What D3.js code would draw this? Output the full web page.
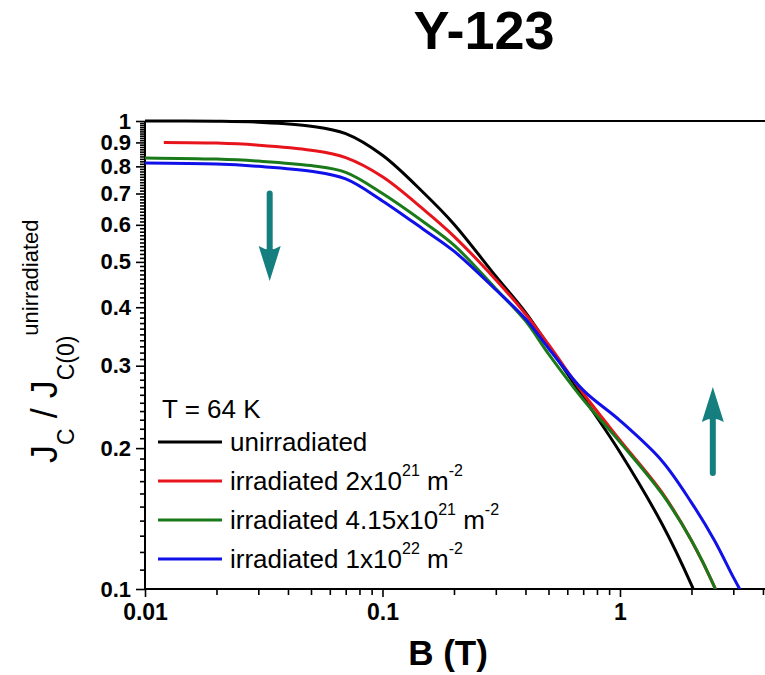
<!DOCTYPE html>
<html>
<head>
<meta charset="utf-8">
<script src="https://cdn.jsdelivr.net/npm/d3@7"></script>
<style>
  body { margin: 0; background: #fff; }
  svg { display: block; font-family: "Liberation Sans", Arial, sans-serif; }
</style>
</head>
<body>
<div id="chart"></div>
<script>
"use strict";

// data: B (T) vs Jc / Jc(0) unirradiated
const seriesNames = [
  "unirradiated",
  "irradiated 2x10^21",
  "irradiated 4.15x10^21",
  "irradiated 1x10^22",
];
const seriesColors = ["#000000", "#e8141c", "#1a7a1a", "#1010e8"];

const bUnirr = [0.01, 0.02, 0.03, 0.05, 0.07, 0.1, 0.15, 0.2, 0.3, 0.4, 0.5, 0.7, 1, 1.5, 2, 2.1];
const jUnirr = [1.0, 0.999, 0.994, 0.975, 0.94, 0.845, 0.7, 0.602, 0.466, 0.39, 0.331, 0.257, 0.196, 0.138, 0.102, 0.096];

const bIrr2e21 = [0.012, 0.02, 0.03, 0.05, 0.07, 0.1, 0.15, 0.2, 0.3, 0.4, 0.5, 0.7, 1, 1.5, 2, 2.5, 2.6];
const jIrr2e21 = [0.9, 0.897, 0.888, 0.866, 0.835, 0.76, 0.645, 0.567, 0.458, 0.387, 0.333, 0.262, 0.208, 0.161, 0.127, 0.101, 0.096];

const bIrr415e21 = [0.01, 0.02, 0.03, 0.05, 0.07, 0.1, 0.15, 0.2, 0.3, 0.4, 0.5, 0.7, 1, 1.5, 2, 2.5, 2.6];
const jIrr415e21 = [0.834, 0.829, 0.821, 0.803, 0.777, 0.7, 0.607, 0.543, 0.438, 0.374, 0.318, 0.254, 0.206, 0.16, 0.127, 0.101, 0.096];

const bIrr1e22 = [0.01, 0.02, 0.03, 0.05, 0.07, 0.1, 0.15, 0.2, 0.3, 0.4, 0.5, 0.7, 1, 1.5, 2, 2.5, 3, 3.3];
const jIrr1e22 = [0.813, 0.809, 0.8, 0.781, 0.752, 0.675, 0.585, 0.527, 0.436, 0.378, 0.327, 0.266, 0.229, 0.188, 0.153, 0.127, 0.106, 0.097];

const xMajorTicks = [0.01, 0.1, 1];
const xMinorTicks = [0.02, 0.03, 0.04, 0.05, 0.06, 0.07, 0.08, 0.09, 0.2, 0.3, 0.4, 0.5, 0.6, 0.7, 0.8, 0.9, 2, 3, 4];
const yMajorTicks = [0.1, 0.2, 0.3, 0.4, 0.5, 0.6, 0.7, 0.8, 0.9, 1];
const yMinorTicks = d3.range(10, 101).map((v) => v / 100).filter((v) => Math.round(v * 100) % 10 !== 0);

// arrows drawn in data space: [B, J start, J end]
const arrowDown = [0.0335, 0.70, 0.455];
const arrowUp = [2.46, 0.177, 0.27];

const width = 765;
const height = 675;
const plot = { left: 145, right: 765, top: 121, bottom: 589 };

const svg = d3
  .select("#chart")
  .append("svg")
  .attr("width", width)
  .attr("height", height);

const x = d3.scaleLog().domain([0.01, 4.08]).range([plot.left, plot.right]);
const y = d3.scaleLog().domain([0.1, 1]).range([plot.bottom, plot.top]);

///////////////////////////////////
// title
///////////////////////////////////
svg
  .append("text")
  .attr("x", 484)
  .attr("y", 49)
  .attr("text-anchor", "middle")
  .style("font-size", "54px")
  .style("font-weight", "bold")
  .text("Y-123");

///////////////////////////////////
// axes
///////////////////////////////////
svg
  .append("g")
  .attr("transform", `translate(0,${plot.bottom})`)
  .call(d3.axisBottom(x).tickValues(xMinorTicks).tickSize(6).tickFormat(""))
  .call((g) => g.select(".domain").remove());
svg
  .append("g")
  .attr("transform", `translate(0,${plot.bottom})`)
  .call(
    d3.axisBottom(x).tickValues(xMajorTicks).tickSize(8).tickPadding(7)
      .tickFormat((d) => (d === 1 ? "1" : String(d)))
  )
  .call((g) => g.select(".domain").remove())
  .call((g) => g.selectAll("text").style("font-size", "23px").style("font-weight", "bold").attr("fill", "#000"));

svg
  .append("g")
  .attr("transform", `translate(${plot.left},0)`)
  .call(d3.axisLeft(y).tickValues(yMinorTicks).tickSize(5).tickFormat(""))
  .call((g) => g.select(".domain").remove());
svg
  .append("g")
  .attr("transform", `translate(${plot.left},0)`)
  .call(
    d3.axisLeft(y).tickValues(yMajorTicks).tickSize(9).tickPadding(5)
      .tickFormat((d) => (d === 1 ? "1" : d3.format(".1f")(d)))
  )
  .call((g) => g.select(".domain").remove())
  .call((g) => g.selectAll("text").style("font-size", "22px").style("font-weight", "bold").attr("fill", "#000"));

svg.selectAll(".tick line").attr("stroke", "#000").attr("stroke-width", 1.6);

// frame lines
const frame = svg.append("g").attr("stroke", "#000").attr("stroke-width", 2);
frame.append("line").attr("x1", plot.left).attr("x2", plot.right).attr("y1", plot.bottom).attr("y2", plot.bottom);
frame.append("line").attr("x1", plot.left).attr("x2", plot.right).attr("y1", plot.top).attr("y2", plot.top);
frame.append("line").attr("x1", plot.left).attr("x2", plot.left).attr("y1", plot.top).attr("y2", plot.bottom);

///////////////////////////////////
// curves
///////////////////////////////////
svg
  .append("clipPath")
  .attr("id", "clip")
  .append("rect")
  .attr("x", plot.left)
  .attr("y", plot.top - 2)
  .attr("width", plot.right - plot.left)
  .attr("height", plot.bottom - plot.top + 2);

const curveData = [
  bUnirr.map((b, i) => ({ b, j: jUnirr[i] })),
  bIrr2e21.map((b, i) => ({ b, j: jIrr2e21[i] })),
  bIrr415e21.map((b, i) => ({ b, j: jIrr415e21[i] })),
  bIrr1e22.map((b, i) => ({ b, j: jIrr1e22[i] })),
];

const line = d3
  .line()
  .x((d) => x(d.b))
  .y((d) => y(d.j))
  .curve(d3.curveCatmullRom.alpha(0.5));

svg
  .append("g")
  .attr("clip-path", "url(#clip)")
  .selectAll("path")
  .data(curveData)
  .enter()
  .append("path")
  .attr("d", line)
  .attr("fill", "none")
  .attr("stroke", (d, i) => seriesColors[i])
  .attr("stroke-width", 3);

///////////////////////////////////
// arrows
///////////////////////////////////
const teal = "#157f7f";
const drawArrow = (a) => {
  const ax = x(a[0]);
  const y0 = y(a[1]);
  const y1 = y(a[2]);
  const dir = y1 > y0 ? 1 : -1;
  const headLen = 35 * dir;
  const hw = 11;
  svg
    .append("line")
    .attr("x1", ax)
    .attr("x2", ax)
    .attr("y1", y0)
    .attr("y2", y1 - headLen * 0.9)
    .attr("stroke", teal)
    .attr("stroke-width", 6)
    .attr("stroke-linecap", "round");
  svg
    .append("path")
    .attr(
      "d",
      `M${ax},${y1} L${ax - hw},${y1 - headLen} Q${ax},${y1 - headLen * 0.8} ${ax + hw},${y1 - headLen} Z`
    )
    .attr("fill", teal);
};
drawArrow(arrowDown);
drawArrow(arrowUp);

///////////////////////////////////
// axis titles
///////////////////////////////////
svg
  .append("text")
  .attr("x", 448)
  .attr("y", 665)
  .attr("text-anchor", "middle")
  .style("font-size", "35px")
  .style("font-weight", "bold")
  .text("B (T)");

const yTitle = svg
  .append("text")
  .attr("transform", "translate(57,463) rotate(-90)")
  .style("font-size", "36px");
yTitle.append("tspan").text("J");
yTitle.append("tspan").attr("dy", 17).style("font-size", "23px").text("C");
yTitle.append("tspan").attr("dy", -17).text(" / J");
yTitle.append("tspan").attr("dy", 17).style("font-size", "23px").text("C(0)");
yTitle.append("tspan").attr("dy", -36).style("font-size", "22px").text("unirradiated");

///////////////////////////////////
// legend
///////////////////////////////////
const legendLabels = [
  ["unirradiated", null, null, null],
  ["irradiated 2x10", "21", " m", "-2"],
  ["irradiated 4.15x10", "21", " m", "-2"],
  ["irradiated 1x10", "22", " m", "-2"],
];

const legend = svg.append("g").attr("transform", "translate(158,418)");
legend.append("text").attr("x", 4).attr("y", 0).style("font-size", "26px").text("T = 64 K");

legendLabels.forEach((lab, i) => {
  const rowY = 24 + i * 39;
  legend
    .append("line")
    .attr("x1", 0)
    .attr("x2", 64)
    .attr("y1", rowY)
    .attr("y2", rowY)
    .attr("stroke", seriesColors[i])
    .attr("stroke-width", 3);
  const t = legend
    .append("text")
    .attr("x", 72)
    .attr("y", rowY + 9)
    .style("font-size", "26px");
  t.append("tspan").text(lab[0]);
  if (lab[1]) {
    t.append("tspan").attr("dy", -14).style("font-size", "16px").text(lab[1]);
    t.append("tspan").attr("dy", 14).text(lab[2]);
    t.append("tspan").attr("dy", -14).style("font-size", "16px").text(lab[3]);
  }
});
</script>
</body>
</html>
